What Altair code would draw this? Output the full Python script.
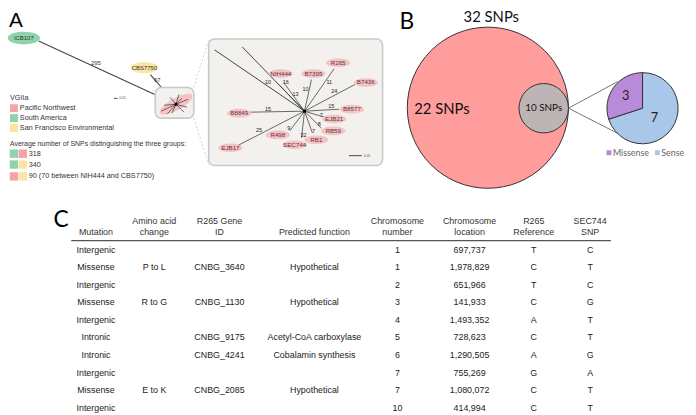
import altair as alt
import pandas as pd

# ---------------- coordinate frame (image pixels) ----------------
X = alt.Scale(domain=[8, 688], range=[0, 680], nice=False, zero=False)
Y = alt.Scale(domain=[8, 407], reverse=True, nice=False, zero=False)

ELL = "M-1,0A1,0.36,0,1,1,1,0A1,0.36,0,1,1,-1,0Z"
ELL_WIDE = "M-1,0A1,0.39,0,1,1,1,0A1,0.39,0,1,1,-1,0Z"
ELL_THIN = "M-1,0A1,0.33,0,1,1,1,0A1,0.33,0,1,1,-1,0Z"

PINK = "#f4a4a7"
GREEN = "#8fd3aa"
YELLOW = "#fbe4a4"
LEAF_PINK = "#f5c3c5"
BOX_FILL = "#f3f1ee"
SANS = "Liberation Sans"
CAL = "Lato"

# ---------------- Panel A data ----------------
outgroup_labels = ["ICB107", "CBS7750"]
outgroup_x = [24, 146]
outgroup_y = [36, 66]
outgroup_branch_len = ["295", "67"]
outgroup_len_x = [97, 159]
outgroup_len_y = [61, 78]
outgroup_line_x1 = [39, 152]
outgroup_line_y1 = [39, 73]
cluster_x = 178
cluster_y = 103

mini_tip_x = [163, 166, 169, 172, 184, 190, 189, 186, 174, 181]
mini_tip_y = [110, 104, 113, 96, 97, 98, 106, 111, 112, 93]

leaf_labels = ["NIH444", "B7395", "R265", "B7436", "B8577", "EJB21",
               "RB59", "RB1", "SEC744", "R498", "EJB17", "B8849"]
leaf_x = [284, 317, 342, 370, 356, 338, 337, 320, 298, 281, 233, 242]
leaf_y = [72, 72, 61, 81, 108, 118, 130, 139, 144, 134, 147, 112]
tip_x = [287, 315, 338, 359, 343, 328, 325, 316, 305, 293, 240, 253]
tip_y = [81, 78, 67, 83, 108, 116, 127, 132, 137, 130, 145, 111]
hub_x = 308
hub_y = 110

inset_long_x = [217, 245, 283]
inset_long_y = [48, 45, 84]

branch_len = ["10", "16", "13", "10", "11", "24", "15", "7", "8", "7", "32", "9", "25", "15"]
branch_len_x = [271, 289, 299, 309, 333, 338, 335, 325, 323, 317, 307, 292, 262, 271]
branch_len_y = [81, 81, 93, 88, 81, 90, 105, 114, 123, 130, 134, 127, 129, 108]

legend_groups = ["Pacific Northwest", "South America", "San Francisco Environmental"]
legend_colors = [PINK, GREEN, YELLOW]
legend_y = [107, 117, 127]

pair_labels = ["318", "340", "90 (70 between NIH444 and CBS7750)"]
pair_left = [GREEN, GREEN, PINK]
pair_right = [PINK, YELLOW, YELLOW]
pair_y = [153, 164, 176]

# ---------------- Panel B data ----------------
total_snps = "32 SNPs"
unique_snps = "22 SNPs"
shared_snps = "10 SNPs"
snp_types = ["Sense", "Missense"]
snp_counts = [7, 3]
snp_colors = ["#a9c8e9", "#b98ad9"]

# ---------------- Panel C data ----------------
header_top = ["", "Amino acid", "R265 Gene", "", "Chromosome", "Chromosome", "R265", "SEC744"]
header_bottom = ["Mutation", "change", "ID", "Predicted function", "number", "location", "Reference", "SNP"]
col_x = [97, 156, 222, 318, 402, 475, 540, 597]

mutation = ["Intergenic", "Missense", "Intergenic", "Missense", "Intergenic",
            "Intronic", "Intronic", "Intergenic", "Missense", "Intergenic"]
aa_change = ["", "P to L", "", "R to G", "", "", "", "", "E to K", ""]
gene_id = ["", "CNBG_3640", "", "CNBG_1130", "", "CNBG_9175", "CNBG_4241", "", "CNBG_2085", ""]
function = ["", "Hypothetical", "", "Hypothetical", "", "Acetyl-CoA carboxylase",
            "Cobalamin synthesis", "", "Hypothetical", ""]
chrom_number = ["1", "1", "2", "3", "4", "5", "6", "7", "7", "10"]
chrom_location = ["697,737", "1,978,829", "651,966", "141,933", "1,493,352",
                  "728,623", "1,290,505", "755,269", "1,080,072", "414,994"]
ref_base = ["T", "C", "T", "C", "A", "C", "A", "G", "C", "C"]
snp_base = ["C", "T", "C", "G", "T", "T", "G", "A", "T", "T"]

# ---------------- helpers ----------------
def xy(chart, xf="x", yf="y", **kw):
    return chart.encode(x=alt.X(f"{xf}:Q", scale=X, axis=None),
                        y=alt.Y(f"{yf}:Q", scale=Y, axis=None), **kw)

def rules(df, **mk):
    return alt.Chart(df).mark_rule(**mk).encode(
        x=alt.X("x:Q", scale=X, axis=None), x2="x2:Q",
        y=alt.Y("y:Q", scale=Y, axis=None), y2="y2:Q")

def texts(df, **mk):
    return xy(alt.Chart(df).mark_text(baseline="middle", **mk), text="t:N")

layers = []

# panel letters
letters = pd.DataFrame({"t": ["A"], "x": [9], "y": [25]})
layers.append(xy(alt.Chart(letters).mark_text(align="left", baseline="alphabetic",
                                              font=SANS, fontSize=21, color="#000"), text="t:N"))
letters2 = pd.DataFrame({"t": ["B", "C"], "x": [404, 54], "y": [27, 227]})
layers.append(xy(alt.Chart(letters2).mark_text(align="left", baseline="alphabetic",
                                               font=CAL, fontSize=23, color="#000"), text="t:N"))

# ---- Panel A ----
og_lines = pd.DataFrame({"x": outgroup_line_x1, "y": outgroup_line_y1,
                         "x2": [cluster_x] * 2, "y2": [cluster_y] * 2})
layers.append(rules(og_lines, color="#444", strokeWidth=1.1))

dash = pd.DataFrame({"x": [196, 196], "y": [86, 117], "x2": [211, 211], "y2": [38, 164]})
layers.append(rules(dash, color="#c4c4c4", strokeWidth=0.8, strokeDash=[2, 2]))

boxes = pd.DataFrame({"x": [157, 211], "x2": [196, 387], "y": [86, 37], "y2": [117, 165]})
layers.append(alt.Chart(boxes).mark_rect(cornerRadius=6, fill=BOX_FILL, stroke="#c9c9c9",
                                         strokeWidth=1.6).encode(
    x=alt.X("x:Q", scale=X, axis=None), x2="x2:Q",
    y=alt.Y("y:Q", scale=Y, axis=None), y2="y2:Q"))

mini = pd.DataFrame({"x": [cluster_x], "y": [cluster_y]})
layers.append(xy(alt.Chart(mini).mark_point(shape=ELL_THIN, size=1400, filled=True, angle=331,
                                            color=LEAF_PINK, opacity=1, strokeWidth=0)))
mini_lines = pd.DataFrame({"x": [cluster_x] * len(mini_tip_x), "y": [cluster_y] * len(mini_tip_x),
                           "x2": mini_tip_x, "y2": mini_tip_y})
layers.append(rules(mini_lines, color="#333", strokeWidth=0.7))
layers.append(xy(alt.Chart(mini).mark_point(shape="square", size=8, filled=True, color="#000", opacity=1)))

og0 = pd.DataFrame({"x": [outgroup_x[0]], "y": [outgroup_y[0]], "t": [outgroup_labels[0]]})
og1 = pd.DataFrame({"x": [outgroup_x[1]], "y": [outgroup_y[1]], "t": [outgroup_labels[1]]})
layers.append(xy(alt.Chart(og0).mark_point(shape=ELL_WIDE, size=1089, filled=True, color=GREEN,
                                           opacity=1, strokeWidth=0)))
layers.append(xy(alt.Chart(og1).mark_point(shape=ELL_WIDE, size=800, filled=True, color=YELLOW,
                                           opacity=1, strokeWidth=0)))
layers.append(texts(pd.concat([og0, og1]), align="center", font=SANS, fontSize=6, color="#333"))
og_len = pd.DataFrame({"x": outgroup_len_x, "y": outgroup_len_y, "t": outgroup_branch_len})
layers.append(texts(og_len, align="center", font=SANS, fontSize=6, color="#333"))

layers.append(rules(pd.DataFrame({"x": [115], "y": [97], "x2": [119], "y2": [97]}),
                    color="#333", strokeWidth=0.8))
layers.append(texts(pd.DataFrame({"x": [120.5], "y": [97], "t": ["0.01"]}),
                    align="left", font=SANS, fontSize=3.5, color="#555"))

inset_lines = pd.DataFrame({"x": [hub_x] * len(tip_x), "y": [hub_y] * len(tip_x),
                            "x2": tip_x, "y2": tip_y})
layers.append(rules(inset_lines, color="#444", strokeWidth=0.8))
long_lines = pd.DataFrame({"x": [hub_x] * 3, "y": [hub_y] * 3,
                           "x2": inset_long_x, "y2": inset_long_y})
layers.append(rules(long_lines, color="#444", strokeWidth=1.0))
layers.append(xy(alt.Chart(pd.DataFrame({"x": [hub_x], "y": [hub_y]})).mark_point(
    shape="square", size=9, filled=True, color="#000", opacity=1)))
leaves = pd.DataFrame({"x": leaf_x, "y": leaf_y, "t": leaf_labels})
layers.append(xy(alt.Chart(leaves).mark_point(shape=ELL, size=600, filled=True, color=LEAF_PINK,
                                              opacity=1, strokeWidth=0)))
layers.append(texts(leaves, align="center", font=SANS, fontSize=6.3, color="#5a3535"))
blen = pd.DataFrame({"x": branch_len_x, "y": branch_len_y, "t": branch_len})
layers.append(texts(blen, align="center", font=SANS, fontSize=5.5, color="#222"))
layers.append(rules(pd.DataFrame({"x": [353], "y": [155], "x2": [366], "y2": [155]}),
                    color="#333", strokeWidth=0.9))
layers.append(texts(pd.DataFrame({"x": [368], "y": [155.5], "t": ["0.01"]}),
                    align="left", font=SANS, fontSize=3.5, color="#555"))

# legend
LX = 10
layers.append(texts(pd.DataFrame({"x": [LX], "y": [97], "t": ["VGIIa"]}),
                    align="left", font=SANS, fontSize=7.3, color="#333"))
leg = pd.DataFrame({"x": [LX + 4] * 3, "y": legend_y, "c": legend_colors, "t": legend_groups})
layers.append(xy(alt.Chart(leg).mark_square(size=64, opacity=1),
                 color=alt.Color("c:N", scale=None)))
layers.append(texts(leg.assign(x=LX + 10), align="left", font=SANS, fontSize=7.3, color="#333"))
layers.append(texts(pd.DataFrame({"x": [LX], "y": [143],
                                  "t": ["Average number of SNPs distinguishing the three groups:"]}),
                    align="left", font=SANS, fontSize=7.0, color="#333"))
pl = pd.DataFrame({"x": [LX + 4] * 3, "y": pair_y, "c": pair_left})
pr = pd.DataFrame({"x": [LX + 13] * 3, "y": pair_y, "c": pair_right})
layers.append(xy(alt.Chart(pd.concat([pl, pr])).mark_square(size=72, opacity=1),
                 color=alt.Color("c:N", scale=None)))
layers.append(texts(pd.DataFrame({"x": [LX + 19] * 3, "y": pair_y, "t": pair_labels}),
                    align="left", font=SANS, fontSize=7.3, color="#333"))

# ---- Panel B ----
big = pd.DataFrame({"x": [493.5], "y": [106.5]})
layers.append(xy(alt.Chart(big).mark_point(shape="circle", size=163 * 163, filled=True,
                                           color="#ff9c9c", stroke="#333", strokeWidth=1,
                                           opacity=1)))
small = pd.DataFrame({"x": [550], "y": [107]})
layers.append(rules(pd.DataFrame({"x": [575, 575], "y": [107, 107], "x2": [625, 626], "y2": [80, 133]}),
                    color="#666", strokeWidth=0.9))
layers.append(xy(alt.Chart(small).mark_point(shape="circle", size=2500, filled=True,
                                             color="#bdb5b5", stroke="#333", strokeWidth=1,
                                             opacity=1)))
pie = pd.DataFrame({"type": snp_types, "n": snp_counts, "o": [0, 1], "x": [650, 650], "y": [107, 107]})
layers.append(xy(alt.Chart(pie).mark_arc(radius=36, stroke="#333", strokeWidth=1),
                 theta=alt.Theta("n:Q", stack=True),
                 order=alt.Order("o:Q"),
                 color=alt.Color("type:N", scale=alt.Scale(domain=snp_types, range=snp_colors),
                                 legend=None)))
btxt = pd.DataFrame({"x": [497, 447], "y": [15, 108], "t": [total_snps, unique_snps]})
layers.append(texts(btxt, align="center", font=CAL, fontSize=15, color="#111"))
layers.append(texts(pd.DataFrame({"x": [550], "y": [107], "t": [shared_snps]}),
                    align="center", font=CAL, fontSize=10, color="#111"))
layers.append(texts(pd.DataFrame({"x": [633, 662], "y": [95, 117], "t": [str(snp_counts[1]), str(snp_counts[0])]}),
                    align="center", font=CAL, fontSize=13, color="#222"))
pleg = pd.DataFrame({"x": [616, 665], "y": [152, 152], "c": [snp_colors[1], snp_colors[0]]})
layers.append(xy(alt.Chart(pleg).mark_square(size=25, opacity=1),
                 color=alt.Color("c:N", scale=None)))
layers.append(texts(pd.DataFrame({"x": [620, 669], "y": [152, 152], "t": ["Missense", "Sense"]}),
                    align="left", font=CAL, fontSize=9, color="#666"))

# ---- Panel C ----
hdr = pd.DataFrame({"x": col_x * 2, "y": [221] * 8 + [232] * 8, "t": header_top + header_bottom})
hdr = hdr[hdr.t != ""]
layers.append(texts(hdr, align="center", font=SANS, fontSize=9, color="#333"))
layers.append(rules(pd.DataFrame({"x": [72], "y": [241], "x2": [618], "y2": [241]}),
                    color="#555", strokeWidth=1.2))
cols = [mutation, aa_change, gene_id, function, chrom_number, chrom_location, ref_base, snp_base]
cells = []
for ci, col in enumerate(cols):
    for ri, v in enumerate(col):
        if v:
            cells.append({"x": col_x[ci], "y": 250 + 17.8 * ri, "t": v})
layers.append(texts(pd.DataFrame(cells), align="center", font=SANS, fontSize=9, color="#222"))

chart = alt.layer(*layers).properties(
    width=680, height=399,
    padding={"left": 0, "top": 0, "right": 8, "bottom": 8},
    autosize=alt.AutoSizeParams(type="none"),
    background="white",
).configure_view(stroke=None)

chart.save("out.html", embed_options={"renderer": "svg", "actions": False})
